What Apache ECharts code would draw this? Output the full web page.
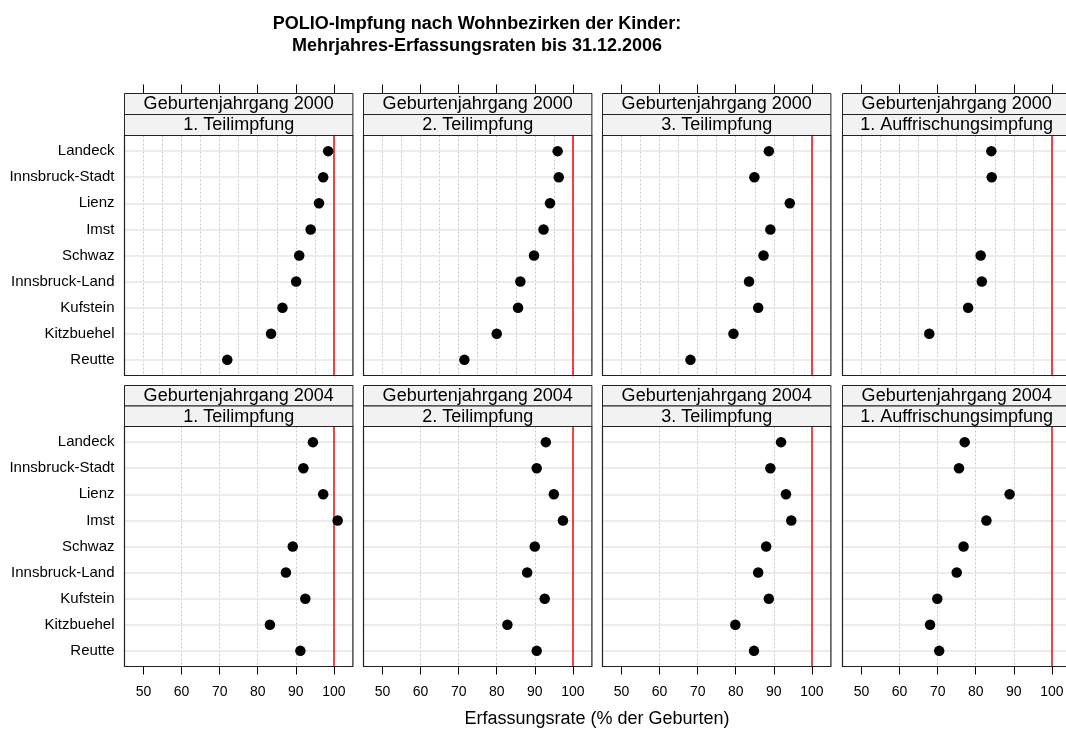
<!DOCTYPE html>
<html>
<head>
<meta charset="utf-8">
<title>POLIO-Impfung nach Wohnbezirken</title>
<script src="https://cdn.jsdelivr.net/npm/echarts@6/dist/echarts.min.js"></script>
<style>
  html, body { margin: 0; padding: 0; background: #fff; }
  #chart { width: 1066px; height: 731px; }
</style>
</head>
<body>
<div id="chart"></div>
<script>
// ---- data ---------------------------------------------------------------
const mainTitle = 'POLIO-Impfung nach Wohnbezirken der Kinder:\nMehrjahres-Erfassungsraten bis 31.12.2006';
const axisTitle = 'Erfassungsrate (% der Geburten)';

const districts = ['Landeck', 'Innsbruck-Stadt', 'Lienz', 'Imst', 'Schwaz',
                   'Innsbruck-Land', 'Kufstein', 'Kitzbuehel', 'Reutte'];
const cohorts = ['Geburtenjahrgang 2000', 'Geburtenjahrgang 2004'];
const doses = ['1. Teilimpfung', '2. Teilimpfung', '3. Teilimpfung', '1. Auffrischungsimpfung'];
const xTicks = [50, 60, 70, 80, 90, 100];
const targetRate = 100;

// coverage rates in district order (null = no value)
const rate2000Dose1   = [98.5, 97.2, 96.1, 93.9, 90.9, 90.1, 86.5, 83.5, 72.0];
const rate2000Dose2   = [96.0, 96.3, 94.0, 92.3, 89.8, 86.2, 85.6, 80.0, 71.5];
const rate2000Dose3   = [88.7, 84.9, 94.2, 89.1, 87.3, 83.5, 85.9, 79.4, 68.1];
const rate2000Booster = [84.1, 84.2, null, null, 81.3, 81.6, 78.0, 67.8, null];
const rate2004Dose1   = [94.5, 92.0, 97.2, 101.0, 89.2, 87.4, 92.5, 83.2, 91.2];
const rate2004Dose2   = [92.9, 90.5, 95.0, 97.4, 90.0, 88.0, 92.6, 82.8, 90.5];
const rate2004Dose3   = [91.9, 89.1, 93.2, 94.6, 88.0, 85.9, 88.7, 79.9, 84.8];
const rate2004Booster = [77.1, 75.6, 88.9, 82.8, 76.8, 75.0, 69.9, 68.0, 70.4];

const panelRates = [
  [rate2000Dose1, rate2000Dose2, rate2000Dose3, rate2000Booster],
  [rate2004Dose1, rate2004Dose2, rate2004Dose3, rate2004Booster]
];

// ---- layout -------------------------------------------------------------
const FONT = '"Liberation Sans", Arial, Helvetica, sans-serif';
const colLeft = [124.5, 363.5, 602.5, 842.5];
const panelW = 228.4;
const rows = [
  { stripTop: 93.5,  plotTop: 135.5, plotBottom: 375.5 },
  { stripTop: 385.5, plotTop: 426.5, plotBottom: 666.5 }
];
const X_MIN = 45, X_MAX = 105;
const Y_MIN = 0.4, Y_MAX = districts.length + 0.6;
const rowPositions = districts.map((d, i) => i + 1);

const option = {
  animation: false,
  backgroundColor: '#ffffff',
  textStyle: { fontFamily: FONT },
  grid: [], xAxis: [], yAxis: [], series: [], graphic: []
};

rows.forEach((row, r) => {
  const plotH = row.plotBottom - row.plotTop;
  const stripH = (row.plotTop - row.stripTop) / 2;
  doses.forEach((dose, c) => {
    const left = colLeft[c];
    const gi = option.grid.length;
    option.grid.push({
      left: left, top: row.plotTop, width: panelW, height: plotH,
      show: false, containLabel: false, outerBoundsMode: 'none'
    });
    option.xAxis.push({
      gridIndex: gi, type: 'value', min: X_MIN, max: X_MAX, interval: 5,
      position: 'bottom',
      axisLine: { show: false, onZero: false },
      axisTick: r === 1
        ? { show: true, customValues: xTicks, length: 8, lineStyle: { color: '#000', width: 1 } }
        : { show: false },
      axisLabel: r === 1
        ? { show: true, customValues: xTicks, margin: 19, fontSize: 14, color: '#000', fontFamily: FONT }
        : { show: false },
      splitLine: {
        show: true, showMinLine: false, showMaxLine: false,
        lineStyle: { color: '#c8c8c8', type: [2, 2], width: 1 }
      }
    });
    option.yAxis.push({
      gridIndex: gi, type: 'value', min: Y_MIN, max: Y_MAX, inverse: true,
      axisLine: { show: false, onZero: false }, axisTick: { show: false }, splitLine: { show: false },
      axisLabel: c === 0
        ? {
            show: true, customValues: rowPositions, margin: 10, fontSize: 15,
            color: '#000', fontFamily: FONT,
            formatter: v => districts[Math.round(v) - 1] || ''
          }
        : { show: false }
    });

    // horizontal row guides and the 100 % reference line
    option.series.push({
      type: 'line', xAxisIndex: gi, yAxisIndex: gi, data: [], z: 1, silent: true,
      markLine: {
        silent: true, symbol: ['none', 'none'], label: { show: false },
        animation: false,
        data: rowPositions.map(p => ({ yAxis: p, lineStyle: { color: '#e6e6e6', width: 1.5, type: 'solid' } }))
          .concat([{ xAxis: targetRate, lineStyle: { color: '#ff0000', width: 1.5, type: 'solid' } }])
      }
    });

    // district dots
    const vals = panelRates[r][c];
    option.series.push({
      type: 'scatter', xAxisIndex: gi, yAxisIndex: gi, z: 5,
      symbol: 'circle', symbolSize: 10.5,
      itemStyle: { color: '#000', opacity: 1 },
      data: vals.map((v, i) => (v == null ? null : [v, i + 1])).filter(d => d !== null)
    });

    // top ticks above the strips in the first row
    if (r === 0) {
      const tg = option.grid.length;
      option.grid.push({
        left: left, top: row.stripTop, width: panelW, height: row.plotBottom - row.stripTop,
        show: false, containLabel: false, outerBoundsMode: 'none'
      });
      option.xAxis.push({
        gridIndex: tg, type: 'value', min: X_MIN, max: X_MAX, interval: 5, position: 'top',
        axisLine: { show: false, onZero: false }, axisLabel: { show: false }, splitLine: { show: false },
        axisTick: { show: true, inside: false, customValues: xTicks, length: 9, lineStyle: { color: '#000', width: 1 } }
      });
      option.yAxis.push({ gridIndex: tg, type: 'value', min: 0, max: 1, show: false });
    }

    // strips: cohort on top, dose below
    [cohorts[r], dose].forEach((label, k) => {
      option.graphic.push({
        type: 'rect', silent: true, z: 50,
        shape: { x: left, y: row.stripTop + k * stripH, width: panelW, height: stripH },
        style: { fill: '#f2f2f2', stroke: '#222', lineWidth: 1 }
      });
      option.graphic.push({
        type: 'text', silent: true, z: 51,
        x: left + panelW / 2, y: row.stripTop + (k + 0.5) * stripH + 0.5,
        style: {
          text: label, fill: '#000', font: '18px ' + FONT,
          textAlign: 'center', textVerticalAlign: 'middle',
          align: 'center', verticalAlign: 'middle'
        }
      });
    });

    // panel frame
    option.graphic.push({
      type: 'rect', silent: true, z: 60,
      shape: { x: left, y: row.plotTop, width: panelW, height: plotH },
      style: { fill: 'none', stroke: '#222', lineWidth: 1.2 }
    });
  });
});

option.graphic.push({
  type: 'text', silent: true, z: 70, x: 477, y: 35,
  style: {
    text: mainTitle, fill: '#000', font: 'bold 18px ' + FONT, lineHeight: 22,
    textAlign: 'center', textVerticalAlign: 'middle', align: 'center', verticalAlign: 'middle'
  }
});
option.graphic.push({
  type: 'text', silent: true, z: 70, x: 597, y: 719,
  style: {
    text: axisTitle, fill: '#000', font: '18px ' + FONT,
    textAlign: 'center', textVerticalAlign: 'middle', align: 'center', verticalAlign: 'middle'
  }
});

const chart = echarts.init(document.getElementById('chart'), null, { renderer: 'canvas' });
chart.setOption(option);
</script>
</body>
</html>
